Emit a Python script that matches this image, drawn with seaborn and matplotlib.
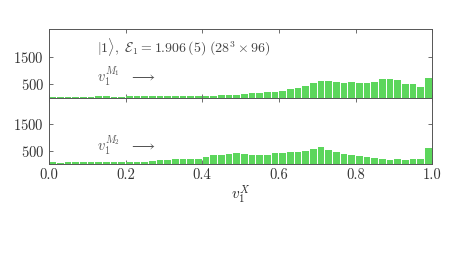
import numpy as np
import pandas as pd
import matplotlib
matplotlib.use("Agg")
import matplotlib.pyplot as plt
import seaborn as sns

# histogram counts, 50 bins on [0, 1]
n_bins = 50
counts_m1 = [40, 45, 45, 50, 45, 50, 60, 55, 50, 50, 55, 55, 60, 60, 65, 65,
             70, 70, 65, 65, 80, 85, 95, 100, 120, 130, 170, 190, 215, 230, 255, 310,
             350, 430, 535, 625, 610, 565, 530, 570, 550, 550, 570, 700, 700, 660,
             520, 520, 400, 735]
counts_m2 = [60, 45, 55, 60, 60, 60, 60, 60, 65, 65, 70, 80, 70, 90, 135, 140,
             165, 170, 200, 180, 260, 330, 340, 365, 400, 370, 335, 345, 345, 405,
             420, 430, 445, 505, 565, 630, 530, 430, 380, 320, 285, 245, 220, 200,
             160, 170, 160, 200, 185, 590]
panel_labels = [r"$v_1^{M_1}\ \ \longrightarrow$", r"$v_1^{M_2}\ \ \longrightarrow$"]
title_text = r"$|1\rangle,\ \mathcal{E}_1 = 1.906\,(5)\ (28^3\times 96)$"
x_ticks = [0.0, 0.2, 0.4, 0.6, 0.8, 1.0]
x_ticklabels = ['0.0', '0.2', '0.4', '0.6', '0.8', '1.0']
y_ticks = [500, 1500]

sns.set_style("ticks")
plt.rcParams['font.family'] = 'serif'
plt.rcParams['font.serif'] = ['cmr10', 'DejaVu Serif']
plt.rcParams['mathtext.fontset'] = 'cm'
plt.rcParams['axes.formatter.use_mathtext'] = True
plt.rcParams['text.color'] = '#333333'
plt.rcParams['xtick.color'] = '#555555'
plt.rcParams['ytick.color'] = '#555555'
plt.rcParams['xtick.labelcolor'] = '#333333'
plt.rcParams['ytick.labelcolor'] = '#333333'

bin_edges = np.linspace(0.0, 1.0, n_bins + 1)
centers = (bin_edges[:-1] + bin_edges[1:]) / 2
df = pd.DataFrame({'v': np.concatenate([centers, centers]),
                   'count': counts_m1 + counts_m2,
                   'panel': ['M1'] * n_bins + ['M2'] * n_bins})

fig = plt.figure(figsize=(4.53, 2.73), dpi=100)
ax1 = fig.add_axes([0.108, 0.641, 0.846, 0.253])
ax2 = fig.add_axes([0.108, 0.400, 0.846, 0.241], sharex=ax1)

# label heights (axes fraction) differ slightly between the panels
label_y = {'M1': 0.235, 'M2': 0.20}

for ax, key, lab in [(ax1, 'M1', panel_labels[0]), (ax2, 'M2', panel_labels[1])]:
    sub = df[df['panel'] == key]
    sns.histplot(data=sub, x='v', weights='count', bins=n_bins, binrange=(0, 1),
                 shrink=0.86, ax=ax, color='#5cd65c', alpha=1.0, linewidth=0)
    ax.set_xlim(0, 1)
    ax.set_ylim(0, 2500)
    ax.set_yticks(y_ticks)
    ax.set_xticks(x_ticks)
    ax.set_ylabel('')
    ax.set_xlabel('')
    ax.tick_params(direction='in', top=True, right=True, length=3, width=0.6,
                   labelsize=10.5)
    for s in ax.spines.values():
        s.set_color('#555555')
        s.set_linewidth(0.7)
    ax.text(0.125, label_y[key], lab, transform=ax.transAxes, fontsize=10.5,
            color='#555555')

ax1.tick_params(labelbottom=False)
ax1.text(0.125, 0.66, title_text, transform=ax1.transAxes, fontsize=10, color='#444444')
ax2.set_xticklabels(x_ticklabels)
ax2.set_xlabel(r"$v_1^X$", fontsize=11, labelpad=1)

fig.savefig('out.png', dpi=100)
